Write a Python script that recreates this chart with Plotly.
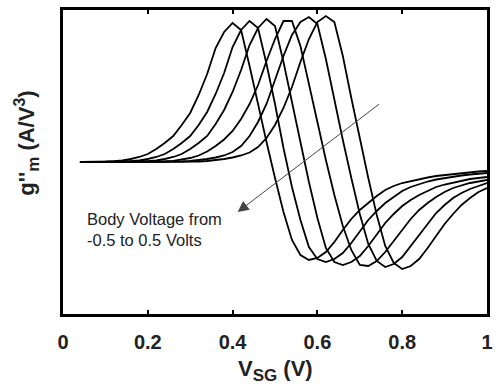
import plotly.graph_objects as go

# Gate voltage grid (V)
v_sg = [0.04, 0.06, 0.08, 0.10, 0.12, 0.14, 0.16, 0.18, 0.20, 0.22,
        0.24, 0.26, 0.28, 0.30, 0.32, 0.34, 0.36, 0.38, 0.40, 0.42,
        0.44, 0.46, 0.48, 0.50, 0.52, 0.54, 0.56, 0.58, 0.60, 0.62,
        0.64, 0.66, 0.68, 0.70, 0.72, 0.74, 0.76, 0.78, 0.80, 0.82,
        0.84, 0.86, 0.88, 0.90, 0.92, 0.94, 0.96, 0.98, 1.00]

# g''m (arbitrary units) for body voltages -0.5 ... 0.5 V
gm_vb1 = [0, 0, 0, 0.3, 0.8, 1.5, 3, 5, 8, 13,
          19, 26, 37, 49, 67, 88, 114, 130, 139, 132,
          96, 57, 20, -16, -50, -78, -93, -98, -96, -90,
          -80, -68, -57, -48, -41, -34, -28, -24, -21, -19,
          -17, -15.5, -14, -13, -12, -11, -10, -9.5, -9]
gm_vb2 = [0, 0, 0, 0, 0, 0.3, 0.8, 1.5, 3, 5,
          8, 13, 19, 26, 37, 50, 68, 89, 115, 132,
          141, 134, 98, 58, 14, -25, -58, -85, -97, -100,
          -97, -91, -81, -69, -58, -49, -41, -35, -29, -25,
          -22, -19.5, -17.5, -16, -14.5, -13.5, -12.5, -11.5, -11]
gm_vb3 = [0, 0, 0, 0, 0, 0, 0, 0.3, 0.8, 1.5,
          3, 5, 8, 13, 19, 26, 38, 52, 70, 92,
          117, 134, 143, 136, 100, 60, 18, -20, -56, -86,
          -100, -103, -100, -94, -84, -72, -61, -52, -44, -38,
          -33, -29, -25, -22.5, -20.5, -18.5, -17, -16, -15]
gm_vb4 = [0, 0, 0, 0, 0, 0, 0, 0, 0, 0.1,
          0.5, 1.1, 2.2, 4, 6.5, 10.5, 16, 22.5, 31, 43,
          58, 77, 101, 123, 141, 141, 116, 77, 38, 2,
          -33, -64, -88, -103, -104, -99, -90, -79, -67, -57,
          -48, -41, -35, -30, -26, -23.5, -21, -19.5, -18]
gm_vb5 = [0, 0, 0, 0, 0, 0, 0, 0, 0, 0,
          0, 0.2, 0.5, 1, 1.8, 3, 4.5, 6.5, 10, 16,
          26, 40, 58, 82, 106, 127, 140, 145, 138, 103,
          62, 22, -16, -52, -82, -99, -105, -102, -95, -84,
          -72, -61, -51, -43, -36, -31, -27, -24, -21]
gm_vb6 = [0, 0, 0, 0, 0, 0, 0, 0, 0, 0,
          0, 0, 0, 0.2, 0.5, 1, 1.8, 3, 4.5, 6.5,
          9.5, 15, 24, 37, 54, 75, 100, 123, 140, 146,
          140, 106, 64, 23, -16, -53, -84, -101, -107, -104,
          -97, -86, -74, -62, -52, -43, -36, -30, -26]

curves = [gm_vb1, gm_vb2, gm_vb3, gm_vb4, gm_vb5, gm_vb6]

x_ticks = [0, 0.2, 0.4, 0.6, 0.8, 1]
x_tick_labels = ["0", "0.2", "0.4", "0.6", "0.8", "1"]

font_family = "Liberation Sans, Arial, sans-serif"

fig = go.Figure()
for ys in curves:
    fig.add_trace(go.Scatter(x=v_sg, y=ys, mode="lines",
                             line=dict(color="black", width=1.8),
                             showlegend=False, hoverinfo="skip"))

fig.update_layout(
    width=499, height=390,
    margin=dict(l=63, r=6, t=10, b=76),
    paper_bgcolor="white", plot_bgcolor="white",
    font=dict(family=font_family, color="black"),
    xaxis=dict(range=[0, 1], tickvals=x_ticks, ticktext=x_tick_labels,
               tickfont=dict(size=20, color="#222", weight="bold",
                             family=font_family),
               ticklabelstandoff=8,
               ticks="inside", ticklen=4, tickwidth=2, tickcolor="black",
               showline=True, linecolor="black", linewidth=2.5,
               mirror="ticks", showgrid=False, zeroline=False),
    yaxis=dict(range=[-152, 152], showticklabels=False, ticks="",
               showline=True, linecolor="black", linewidth=2.5,
               mirror=True, showgrid=False, zeroline=False),
)

# axis titles
fig.add_annotation(xref="paper", yref="paper", x=0.5, y=0,
                   yanchor="top", yshift=-40, showarrow=False,
                   text="<b>V<sub><span style='font-size:17px'>SG</span></sub> (V)</b>",
                   font=dict(size=22, color="#222", family=font_family))
fig.add_annotation(xref="paper", yref="paper", x=0, y=0.56,
                   xanchor="center", xshift=-36, textangle=-90,
                   showarrow=False,
                   text="<b>g''<sub><span style='font-size:17px'>m</span></sub> "
                        "(A/V<sup><span style='font-size:16px'>3</span></sup>)</b>",
                   font=dict(size=22, color="#222", family=font_family))

# arrow and label
fig.add_annotation(x=0.412, y=-50, ax=0.749, ay=59, xref="x", yref="y",
                   axref="x", ayref="y", showarrow=True, text="",
                   arrowhead=2, arrowsize=2.2, arrowwidth=1,
                   arrowcolor="#444")
fig.add_annotation(x=0.053, y=-67, xref="x", yref="y", xanchor="left",
                   yanchor="middle", align="left", showarrow=False,
                   text="Body Voltage from<br>-0.5 to 0.5 Volts",
                   font=dict(size=16.5, color="#222", family=font_family))

fig.write_html("out.html")
